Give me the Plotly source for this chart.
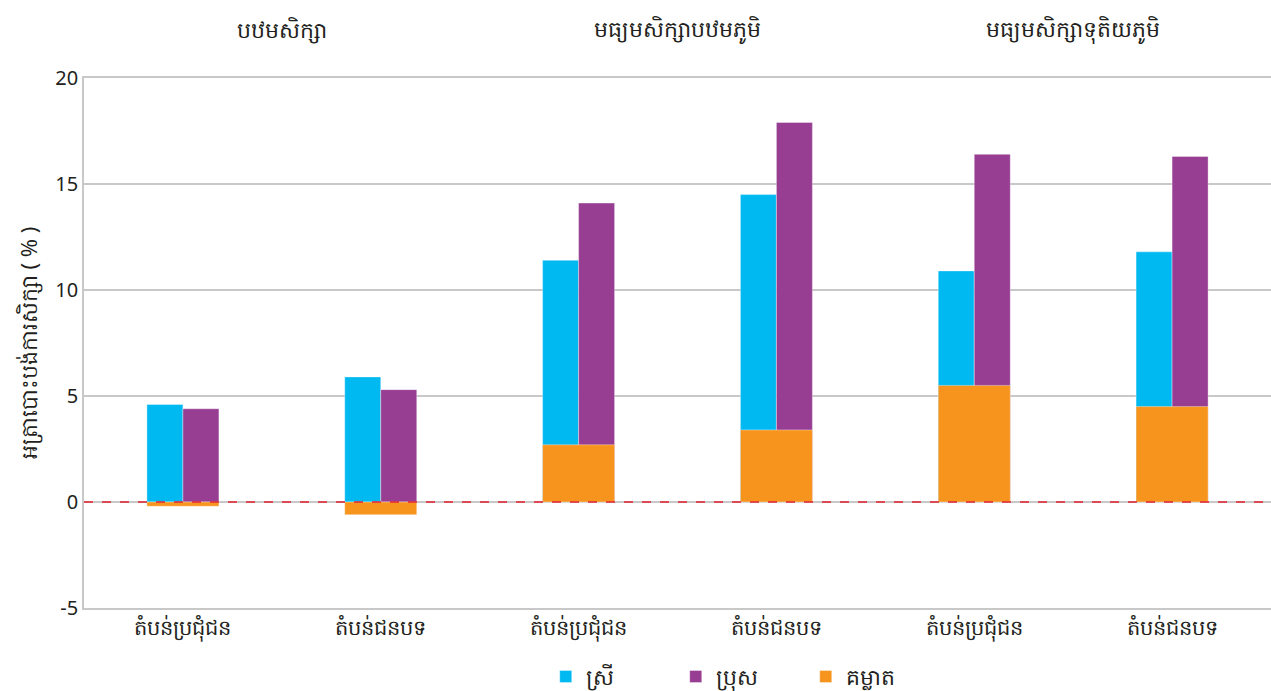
import plotly.graph_objects as go

categories = ["តំបន់ប្រជុំជន", "តំបន់ជនបទ", "តំបន់ប្រជុំជន", "តំបន់ជនបទ", "តំបន់ប្រជុំជន", "តំបន់ជនបទ"]
levels = ["បឋមសិក្សា", "មធ្យមសិក្សាបឋមភូមិ", "មធ្យមសិក្សាទុតិយភូមិ"]
female = [4.6, 5.9, 11.4, 14.5, 10.9, 11.8]
male = [4.4, 5.3, 14.1, 17.9, 16.4, 16.3]
gap = [-0.2, -0.6, 2.7, 3.4, 5.5, 4.5]
series_names = ["ស្រី", "ប្រុស", "គម្លាត"]
y_title = "អត្រាបោះបង់ការសិក្សា ( % )"
y_ticks = [-5, 0, 5, 10, 15, 20]
y_ticktext = ["-5", "0", "5", "10", "15", "20"]

FONT = "Noto Sans, DejaVu Sans, sans-serif"
pos = list(range(len(categories)))
bw = 0.182

fig = go.Figure()
fig.add_trace(go.Bar(x=[p - bw / 2 for p in pos], y=female, width=bw, name=series_names[0],
                     marker=dict(color="#00B9F1", line=dict(width=0.6, color="rgba(255,255,255,0.6)"))))
fig.add_trace(go.Bar(x=[p + bw / 2 for p in pos], y=male, width=bw, name=series_names[1],
                     marker=dict(color="#973E93", line=dict(width=0.6, color="rgba(255,255,255,0.6)"))))
fig.add_trace(go.Bar(x=pos, y=gap, width=2 * bw, name=series_names[2],
                     marker=dict(color="#F7941D", line=dict(width=0.6, color="rgba(255,255,255,0.6)"))))

fig.add_shape(type="line", xref="paper", yref="y", x0=0, x1=1, y0=0, y1=0,
              line=dict(color="#E0202E", width=1.5, dash="dash"))

for i, lv in enumerate(levels):
    fig.add_annotation(x=2 * i + 0.5, xref="x", y=1.093, yref="paper", text=lv, showarrow=False,
                       font=dict(size=22, color="#231F20", family=FONT), yanchor="middle")

fig.update_layout(
    barmode="overlay",
    width=1271, height=691,
    paper_bgcolor="white", plot_bgcolor="white",
    margin=dict(l=84, r=0, t=78, b=83, autoexpand=False),
    font=dict(family=FONT, color="#231F20"),
    showlegend=True,
    legend=dict(orientation="h", x=0.389, xanchor="left", y=-0.09, yanchor="top",
                font=dict(size=22, family=FONT), entrywidth=85, traceorder="normal"),
    xaxis=dict(range=[-0.5, 5.5], tickvals=pos, ticktext=categories, showgrid=False,
               zeroline=False, showline=True, mirror=True, linecolor="#C8C8C8", linewidth=1.5,
               ticks="", tickfont=dict(size=21), automargin=False),
    yaxis=dict(range=[-5, 20], tickvals=y_ticks, ticktext=y_ticktext, showgrid=True,
               gridcolor="#C8C8C8", gridwidth=1.5, automargin=False,
               zeroline=False, showline=True, linecolor="#C8C8C8", linewidth=1.5,
               tickfont=dict(size=20), title=dict(text=y_title, font=dict(size=22), standoff=12)),
)

fig.write_html("out.html", config={"displayModeBar": False},
               post_script="document.body.style.margin='0px';document.body.style.overflow='hidden';")
